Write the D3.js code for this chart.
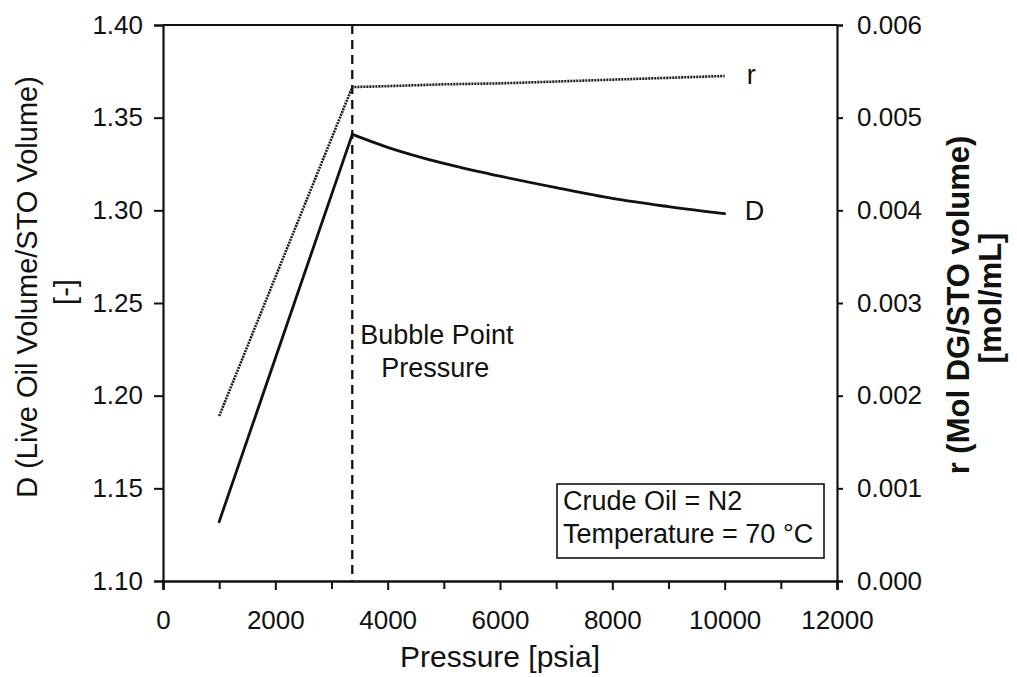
<!DOCTYPE html>
<html>
<head>
<meta charset="utf-8">
<script src="https://cdn.jsdelivr.net/npm/d3@7"></script>
<style>
  body { margin: 0; background: #fff; }
  text { font-family: "Liberation Sans", Arial, sans-serif; fill: #111; }
</style>
</head>
<body>
<svg id="chart" width="1017" height="677"></svg>
<script>
// values
const pressure = [1000, 3370, 4000, 5000, 6000, 7000, 8000, 9000, 10000]
const dValues = [1.132, 1.341, 1.334, 1.3253, 1.3184, 1.3122, 1.3064, 1.302, 1.2982]
const rValues = [0.00178, 0.00533, 0.00534, 0.00536, 0.00537, 0.00539, 0.00541, 0.00543, 0.00545]
const bubblePoint = 3370
const xTicks = [0, 2000, 4000, 6000, 8000, 10000, 12000]
const xMinorTicks = [1000, 3000, 5000, 7000, 9000, 11000]
const dTicks = [1.10, 1.15, 1.20, 1.25, 1.30, 1.35, 1.40]
const rTicks = [0, 0.001, 0.002, 0.003, 0.004, 0.005, 0.006]
const infoLines = ['Crude Oil = N2', 'Temperature = 70 °C']

const plotLeft = 163, plotRight = 837, plotTop = 25, plotBottom = 581

const svg = d3.select('#chart')

const x = d3.scaleLinear().domain([0, 12000]).range([plotLeft, plotRight])
const yD = d3.scaleLinear().domain([1.10, 1.40]).range([plotBottom, plotTop])
const yR = d3.scaleLinear().domain([0, 0.006]).range([plotBottom, plotTop])

const labelSize = '27px'

// frame: top line
svg.append('line')
  .attr('x1', plotLeft).attr('x2', plotRight)
  .attr('y1', plotTop).attr('y2', plotTop)
  .attr('stroke', '#111').attr('stroke-width', 2)

// bottom axis
const xAxis = svg.append('g')
  .attr('transform', `translate(0,${plotBottom})`)
  .call(d3.axisBottom(x).tickValues(xTicks).tickFormat(d3.format('d')).tickSize(9).tickPadding(21))
xAxis.append('g')
  .call(d3.axisBottom(x).tickValues(xMinorTicks).tickFormat('').tickSize(8))

// left axis
svg.append('g')
  .attr('transform', `translate(${plotLeft},0)`)
  .call(d3.axisLeft(yD).tickValues(dTicks).tickFormat(d3.format('.2f')).tickSize(9).tickPadding(11))

// right axis
svg.append('g')
  .attr('transform', `translate(${plotRight},0)`)
  .call(d3.axisRight(yR).tickValues(rTicks).tickFormat(d3.format('.3f')).tickSize(6).tickPadding(14))

svg.selectAll('.domain').attr('stroke', '#111').attr('stroke-width', 2.2)
svg.selectAll('.tick line').attr('stroke', '#111').attr('stroke-width', 2)
svg.selectAll('.tick text')
  .style('font-family', '"Liberation Sans", Arial, sans-serif')
  .style('font-size', '26px')
  .attr('fill', '#111')

// bubble point line
svg.append('line')
  .attr('x1', x(bubblePoint)).attr('x2', x(bubblePoint))
  .attr('y1', plotTop).attr('y2', plotBottom)
  .attr('stroke', '#111').attr('stroke-width', 2.3)
  .attr('stroke-dasharray', '9,6')

// D line: straight rise up to the bubble point, smooth decline after it
const dLine = d3.line()
  .x(d => x(d[0]))
  .y(d => yD(d[1]))
const dPoints = pressure.map((p, i) => [p, dValues[i]])

svg.append('path')
  .datum(dPoints.slice(0, 2))
  .attr('d', dLine)
  .attr('fill', 'none')
  .attr('stroke', '#111')
  .attr('stroke-width', 2.8)
  .attr('stroke-linecap', 'round')

svg.append('path')
  .datum(dPoints.slice(1))
  .attr('d', dLine.curve(d3.curveMonotoneX))
  .attr('fill', 'none')
  .attr('stroke', '#111')
  .attr('stroke-width', 2.8)
  .attr('stroke-linecap', 'round')

// r line
const rLine = d3.line()
  .x((d, i) => x(pressure[i]))
  .y(d => yR(d))

svg.append('path')
  .datum(rValues)
  .attr('d', rLine)
  .attr('fill', 'none')
  .attr('stroke', '#1a1a1a')
  .attr('stroke-width', 2.6)
  .attr('stroke-dasharray', '2,1')

// series labels
const last = pressure.length - 1
svg.append('text')
  .attr('x', x(pressure[last]) + 22).attr('y', yR(rValues[last]) + 8)
  .style('font-size', labelSize)
  .text('r')
svg.append('text')
  .attr('x', x(pressure[last]) + 20).attr('y', yD(dValues[last]) + 6)
  .style('font-size', labelSize)
  .text('D')

// bubble point annotation
svg.append('text')
  .attr('x', x(bubblePoint) + 8).attr('y', 344)
  .style('font-size', labelSize)
  .text('Bubble Point')
svg.append('text')
  .attr('x', x(bubblePoint) + 83).attr('y', 377)
  .attr('text-anchor', 'middle')
  .style('font-size', labelSize)
  .text('Pressure')

// info box
svg.append('rect')
  .attr('x', 557).attr('y', 484)
  .attr('width', 267).attr('height', 74)
  .attr('fill', '#fff')
  .attr('stroke', '#111').attr('stroke-width', 1.6)
svg.selectAll('text.info')
  .data(infoLines)
  .enter()
  .append('text')
  .attr('class', 'info')
  .attr('x', 563)
  .attr('y', (d, i) => 510 + i * 33)
  .style('font-size', labelSize)
  .text(d => d)

// axis titles
svg.append('text')
  .attr('x', (plotLeft + plotRight) / 2).attr('y', 667)
  .attr('text-anchor', 'middle')
  .style('font-size', '30px')
  .text('Pressure [psia]')

svg.append('text')
  .attr('transform', 'translate(37,287) rotate(-90)')
  .attr('text-anchor', 'middle')
  .style('font-size', '29px')
  .text('D (Live Oil Volume/STO Volume)')
svg.append('text')
  .attr('transform', 'translate(75,292) rotate(-90)')
  .attr('text-anchor', 'middle')
  .style('font-size', '29px')
  .text('[-]')

svg.append('text')
  .attr('transform', 'translate(969,305) rotate(-90)')
  .attr('text-anchor', 'middle')
  .style('font-size', '31px')
  .style('font-weight', 'bold')
  .text('r (Mol DG/STO volume)')
svg.append('text')
  .attr('transform', 'translate(1001,298) rotate(-90)')
  .attr('text-anchor', 'middle')
  .style('font-size', '31px')
  .style('font-weight', 'bold')
  .text('[mol/mL]')
</script>
</body>
</html>
